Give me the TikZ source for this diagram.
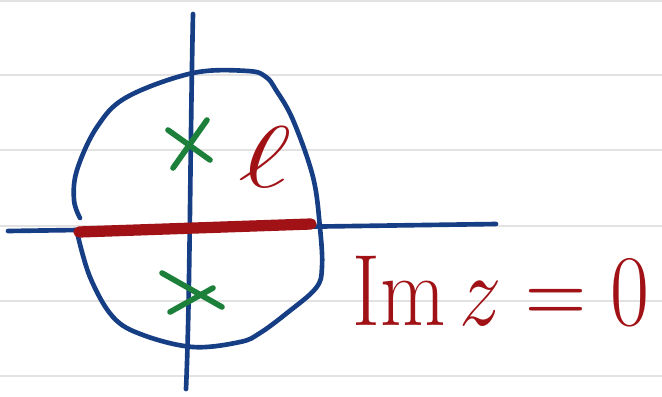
\documentclass[tikz,border=0pt]{standalone}
\definecolor{inkblue}{RGB}{22,62,132}
\definecolor{inkred}{RGB}{160,18,22}
\definecolor{inkgreen}{RGB}{28,128,58}
\definecolor{ruling}{RGB}{226,226,226}
\begin{document}
\begin{tikzpicture}[x=0.025cm,y=-0.025cm,line cap=round,line join=round]
\useasboundingbox (0,0) rectangle (662,396);
\fill[white] (0,0) rectangle (662,396);

% ruled paper
\foreach \y in {1,75,150,226,301,376}
  \draw[ruling,line width=1.4pt] (0,\y) -- (662,\y);

% axes
\draw[inkblue,line width=3.3pt] (8,231) -- (496,224);
\draw[inkblue,line width=3.3pt] (193,14) .. controls (190,150) and (190,300) .. (186,389);

% contour
\draw[inkblue,line width=3.3pt] plot[smooth,tension=0.6] coordinates {
  (80,218) (74,200) (77,170) (97,127) (127,97) (193,73) (248,71) (266,77)
  (276,90) (293,120) (313,177) (320,228) (322,267) (316,288) (287,313) (260,333)
  (240,342) (193,347) (143,335) (113,317) (90,277) (77,232)};

% real axis segment
\draw[inkred,line width=8pt] (79,232) -- (311,224);

% poles
\draw[inkgreen,line width=4pt] (168,130) -- (210,160);
\draw[inkgreen,line width=4pt] (207,120) -- (173,168);
\draw[inkgreen,line width=4pt] (162,273) -- (222,307);
\draw[inkgreen,line width=4pt] (213,288) -- (170,312);

% labels
\node[inkred,xscale=3.7,yscale=2.5,inner sep=0pt] (ell) at (265,157) {\Huge$\ell$};
\node[inkred,anchor=base west,xscale=2.42,yscale=2.9,inner sep=0pt] (imz) at (352,325) {\Huge$\mathrm{Im}\,z=0$};
\end{tikzpicture}
\end{document}
